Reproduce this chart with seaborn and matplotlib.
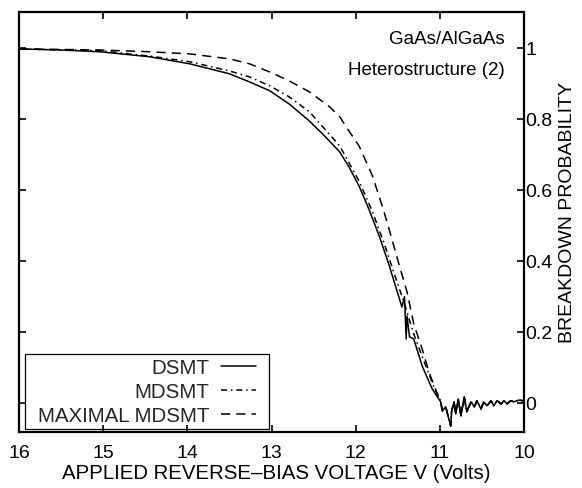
import matplotlib
matplotlib.use("Agg")
import matplotlib.pyplot as plt
from matplotlib.patches import Rectangle
import seaborn as sns
import pandas as pd

# ---- data ----
dsmt_v = [16.00, 15.51, 15.04, 14.45, 13.97, 13.50, 13.26, 13.02, 12.79, 12.55, 12.37,
          12.19, 12.08, 11.96, 11.84, 11.72, 11.60, 11.48, 11.45, 11.42, 11.40, 11.39,
          11.36, 11.31, 11.21, 11.09, 10.99]
dsmt_p = [0.997, 0.994, 0.989, 0.975, 0.955, 0.927, 0.904, 0.879, 0.842, 0.794, 0.752,
          0.707, 0.665, 0.611, 0.544, 0.470, 0.386, 0.293, 0.270, 0.299, 0.180, 0.245,
          0.186, 0.180, 0.104, 0.039, 0.003]

mdsmt_v = [16.00, 15.04, 14.45, 13.97, 13.50, 13.26, 13.02, 12.79, 12.55, 12.40, 12.19,
           11.96, 11.80, 11.66, 11.54, 11.42, 11.31, 11.19, 11.07, 10.99]
mdsmt_p = [0.997, 0.992, 0.977, 0.961, 0.935, 0.918, 0.893, 0.862, 0.820, 0.780, 0.724,
           0.625, 0.538, 0.448, 0.363, 0.279, 0.194, 0.118, 0.045, 0.005]

max_v = [16.00, 15.04, 14.45, 13.97, 13.50, 13.26, 13.02, 12.79, 12.55, 12.31, 12.19,
         12.08, 11.96, 11.80, 11.67, 11.58, 11.48, 11.39, 11.31, 11.21, 11.13, 11.04, 10.99]
max_p = [0.997, 0.994, 0.989, 0.983, 0.969, 0.955, 0.932, 0.907, 0.876, 0.834, 0.806,
         0.766, 0.724, 0.639, 0.544, 0.470, 0.386, 0.313, 0.223, 0.152, 0.087, 0.031, 0.003]

# noisy tail near zero (common to all curves)
tail_v = [10.97, 10.93, 10.90, 10.87, 10.86, 10.83, 10.81, 10.78, 10.75, 10.71, 10.68,
          10.63, 10.59, 10.56, 10.51, 10.48, 10.44, 10.39, 10.36, 10.32, 10.27, 10.24,
          10.20, 10.16, 10.12, 10.06, 10.01]
tail_p = [-0.023, -0.011, -0.039, -0.065, -0.023, 0.003, -0.031, 0.011, -0.037, 0.017, -0.025,
          0.003, -0.011, 0.006, -0.017, 0.003, -0.008, 0.006, -0.008, 0.006, -0.003, 0.006,
          -0.003, 0.006, 0.003, 0.008, 0.006]

series_names = ["DSMT", "MDSMT", "MAXIMAL MDSMT"]
x_ticks = [10, 11, 12, 13, 14, 15, 16]
y_ticks = [0, 0.2, 0.4, 0.6, 0.8, 1.0]
y_tick_labels = ["0", "0.2", "0.4", "0.6", "0.8", "1"]

# ---- style ----
sns.set_theme(style="ticks")
plt.rcParams["font.family"] = ["Liberation Sans", "DejaVu Sans"]

fig = plt.figure(figsize=(5.82, 4.89), dpi=100)
ax = fig.add_axes([19 / 582, 56 / 489, 505 / 582, 420 / 489])

curves = [
    (dsmt_v + tail_v, dsmt_p + tail_p, "-"),
    (mdsmt_v + tail_v, mdsmt_p + tail_p, (0, (4, 2.5, 1, 2.5))),
    (max_v + tail_v, max_p + tail_p, (0, (6, 4))),
]
for name, (v, p, ls) in zip(series_names, curves):
    df = pd.DataFrame({"V": v, "P": p})
    sns.lineplot(data=df, x="V", y="P", ax=ax, color="black", lw=1.1,
                 linestyle=ls, sort=False, estimator=None, label=name)

ax.set_xlim(16, 10)
ax.set_ylim(-0.082, 1.101)
ax.set_xticks(x_ticks)
ax.set_xticklabels([str(t) for t in x_ticks])
ax.set_yticks(y_ticks)
ax.set_yticklabels(y_tick_labels)

ax.tick_params(axis="both", direction="in", length=5, width=1.2, colors="black",
               top=True, bottom=True, left=True, right=True,
               labelleft=False, labelright=True, labelsize=14)
ax.tick_params(axis="x", pad=9)
ax.tick_params(axis="y", pad=1)
for s in ax.spines.values():
    s.set_linewidth(1.6)
    s.set_color("black")

ax.set_xlabel("APPLIED REVERSE\u2013BIAS VOLTAGE V (Volts)", fontsize=14.7, color="black")
ax.xaxis.set_label_coords(0.509, -0.074)
ax.yaxis.set_label_position("right")
ax.set_ylabel("BREAKDOWN PROBABILITY", fontsize=14, color="black", rotation=90)
ax.yaxis.set_label_coords(1.069, 0.524)

ax.text(0.962, 0.936, "GaAs/AlGaAs", transform=ax.transAxes, ha="right", va="center",
        fontsize=13.5, color="black")
ax.text(0.962, 0.864, "Heterostructure (2)", transform=ax.transAxes, ha="right", va="center",
        fontsize=13.5, color="black")

leg = ax.legend(loc="lower left", bbox_to_anchor=(0.0376, 0.0157), borderaxespad=0,
                markerfirst=False, frameon=False, fontsize=14.8, handlelength=1.7,
                handletextpad=0.55, labelspacing=0.26, borderpad=0.0)

# frame around legend with wider horizontal than vertical padding
fig.canvas.draw()
bb = leg.get_window_extent()
pad_x, pad_y = 13, 3.6
fw, fh = fig.bbox.width, fig.bbox.height
rect = Rectangle(((bb.x0 - pad_x) / fw, (bb.y0 - pad_y) / fh),
                 (bb.width + 2 * pad_x) / fw, (bb.height + 2 * pad_y) / fh,
                 transform=fig.transFigure, fill=False, edgecolor="black",
                 linewidth=0.9, zorder=10)
fig.add_artist(rect)

fig.savefig("out.png", dpi=100, facecolor="white")
